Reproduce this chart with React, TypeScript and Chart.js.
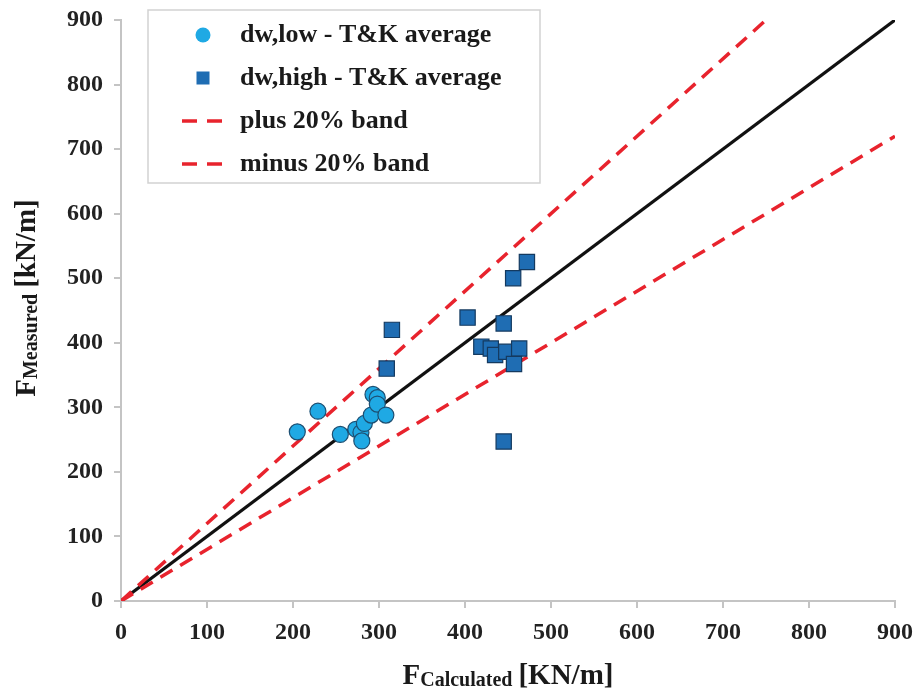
import React, { useEffect, useRef } from "react";
import { Chart, registerables } from "chart.js";

Chart.register(...registerables);

// ---- data ----
const lowCalc = [205, 229, 255, 273, 279, 280, 283, 291, 293, 298, 298, 308];
const lowMeas = [262, 294, 258, 266, 261, 248, 275, 288, 320, 315, 305, 288];
const highCalc = [315, 309, 403, 472, 456, 445, 419, 430, 435, 448, 463, 457, 445];
const highMeas = [420, 360, 439, 525, 500, 430, 394, 391, 381, 386, 391, 367, 247];

const equalCalc = [0, 900];
const equalMeas = [0, 900];
const plusCalc = [0, 750];
const plusMeas = [0, 900];
const minusCalc = [0, 900];
const minusMeas = [0, 720];

const tickValues = [0, 100, 200, 300, 400, 500, 600, 700, 800, 900];

const seriesLabels = [
  "dw,low - T&K average",
  "dw,high - T&K average",
  "plus 20% band",
  "minus 20% band",
];

const xTitle = { main: "F", sub: "Calculated", unit: "[KN/m]" };
const yTitle = { main: "F", sub: "Measured", unit: "[kN/m]" };

const pairs = (xs: number[], ys: number[]) => xs.map((x, i) => ({ x, y: ys[i] }));

const SERIF = '"Liberation Serif", "Times New Roman", serif';
const LOW_FILL = "#1fa9e4";
const LOW_EDGE = "#1d4f72";
const HIGH_FILL = "#1f6db3";
const HIGH_EDGE = "#143a60";
const RED = "#e8232d";
const AXIS = "#c4c4c4";

function drawTitle(ctx: CanvasRenderingContext2D, t: { main: string; sub: string; unit: string }) {
  const mainFont = `bold 29px ${SERIF}`;
  const subFont = `bold 20px ${SERIF}`;
  ctx.font = mainFont;
  const wMain = ctx.measureText(t.main).width;
  const wUnit = ctx.measureText(t.unit).width;
  ctx.font = subFont;
  const wSub = ctx.measureText(t.sub).width;
  const gap = 6;
  const total = wMain + wSub + gap + wUnit;
  let x = -total / 2;
  ctx.textAlign = "left";
  ctx.textBaseline = "alphabetic";
  ctx.fillStyle = "#1a1a1a";
  ctx.font = mainFont;
  ctx.fillText(t.main, x, 0);
  x += wMain;
  ctx.font = subFont;
  ctx.fillText(t.sub, x, 2);
  x += wSub + gap;
  ctx.font = mainFont;
  ctx.fillText(t.unit, x, 0);
}

const decorPlugin = {
  id: "decor",
  afterDraw(chart: any) {
    const ctx: CanvasRenderingContext2D = chart.ctx;
    const area = chart.chartArea;
    ctx.save();
    // x title
    ctx.save();
    ctx.translate((area.left + area.right) / 2, 684);
    drawTitle(ctx, xTitle);
    ctx.restore();
    // y title
    ctx.save();
    ctx.translate(35, 298);
    ctx.rotate(-Math.PI / 2);
    drawTitle(ctx, yTitle);
    ctx.restore();

    // legend
    const bx = 148, by = 10, bw = 392, bh = 173;
    ctx.fillStyle = "#ffffff";
    ctx.fillRect(bx, by, bw, bh);
    ctx.strokeStyle = "#d2d2d2";
    ctx.lineWidth = 1.5;
    ctx.strokeRect(bx, by, bw, bh);

    const rows = [35, 78, 121, 164];
    const ds = chart.data.datasets;
    ctx.font = `bold 26px ${SERIF}`;
    ctx.textAlign = "left";
    ctx.textBaseline = "alphabetic";
    for (let i = 0; i < 4; i++) {
      const cy = rows[i];
      const d = ds[i];
      if (i === 0) {
        ctx.beginPath();
        ctx.arc(203, cy, 7.5, 0, Math.PI * 2);
        ctx.fillStyle = d.backgroundColor;
        ctx.fill();
      } else if (i === 1) {
        ctx.fillStyle = d.backgroundColor;
        ctx.fillRect(196.5, cy - 6.5, 13, 13);
      } else {
        ctx.strokeStyle = d.borderColor;
        ctx.lineWidth = 3.5;
        ctx.beginPath();
        ctx.moveTo(182, cy);
        ctx.lineTo(197, cy);
        ctx.moveTo(207, cy);
        ctx.lineTo(222, cy);
        ctx.stroke();
      }
      ctx.fillStyle = "#1a1a1a";
      ctx.fillText(d.label, 240, cy + 7);
    }
    ctx.restore();
  },
};

export default function App() {
  const ref = useRef<HTMLCanvasElement | null>(null);

  useEffect(() => {
    document.body.style.margin = "0";
    const canvas = ref.current;
    if (!canvas) return;

    const scaleCommon = (fitKey: "width" | "height", fitVal: number) => ({
      type: "linear" as const,
      min: 0,
      max: 900,
      afterBuildTicks: (s: any) => {
        s.ticks = tickValues.map((v) => ({ value: v }));
      },
      afterFit: (s: any) => {
        s[fitKey] = fitVal;
        s.paddingLeft = 0;
        s.paddingRight = 0;
        s.paddingTop = 0;
        s.paddingBottom = 0;
      },
      grid: {
        display: true,
        drawOnChartArea: false,
        drawTicks: true,
        tickLength: 7,
        color: AXIS,
        lineWidth: 2,
      },
      border: { display: true, color: AXIS, width: 2 },
      title: { display: false },
    });

    const chart = new Chart(canvas, {
      type: "scatter",
      data: {
        datasets: [
          {
            label: seriesLabels[0],
            data: pairs(lowCalc, lowMeas),
            pointStyle: "circle",
            pointRadius: 8,
            backgroundColor: LOW_FILL,
            borderColor: LOW_EDGE,
            borderWidth: 1.2,
            showLine: false,
            order: 0,
          },
          {
            label: seriesLabels[1],
            data: pairs(highCalc, highMeas),
            pointStyle: "rect",
            pointRadius: 10.8,
            backgroundColor: HIGH_FILL,
            borderColor: HIGH_EDGE,
            borderWidth: 1.2,
            showLine: false,
            order: 0,
          },
          {
            label: seriesLabels[2],
            data: pairs(plusCalc, plusMeas),
            showLine: true,
            borderColor: RED,
            backgroundColor: RED,
            borderWidth: 3.5,
            borderDash: [14, 9],
            pointRadius: 0,
            fill: false,
            order: 1,
          },
          {
            label: seriesLabels[3],
            data: pairs(minusCalc, minusMeas),
            showLine: true,
            borderColor: RED,
            backgroundColor: RED,
            borderWidth: 3.5,
            borderDash: [14, 9],
            pointRadius: 0,
            fill: false,
            order: 1,
          },
          {
            label: "1:1",
            data: pairs(equalCalc, equalMeas),
            showLine: true,
            borderColor: "#111111",
            backgroundColor: "#111111",
            borderWidth: 3.2,
            pointRadius: 0,
            fill: false,
            order: 2,
          },
        ],
      },
      options: {
        responsive: false,
        animation: false,
        devicePixelRatio: 1,
        layout: { padding: { left: 0, right: 23, top: 20, bottom: 0 } },
        plugins: {
          legend: { display: false },
          tooltip: { enabled: false },
        },
        scales: {
          x: {
            ...scaleCommon("height", 90),
            position: "bottom",
            ticks: {
              font: { family: SERIF, size: 24, weight: "bold" },
              color: "#222222",
              padding: 10,
              maxRotation: 0,
              autoSkip: false,
            },
          },
          y: {
            ...scaleCommon("width", 121),
            position: "left",
            ticks: {
              font: { family: SERIF, size: 24, weight: "bold" },
              color: "#222222",
              padding: 11,
              autoSkip: false,
            },
          },
        },
      } as any,
      plugins: [decorPlugin],
    });

    return () => chart.destroy();
  }, []);

  return (
    <div style={{ width: 918, height: 691, position: "relative" }}>
      <canvas ref={ref} width={918} height={691} style={{ width: 918, height: 691, display: "block" }} />
    </div>
  );
}
